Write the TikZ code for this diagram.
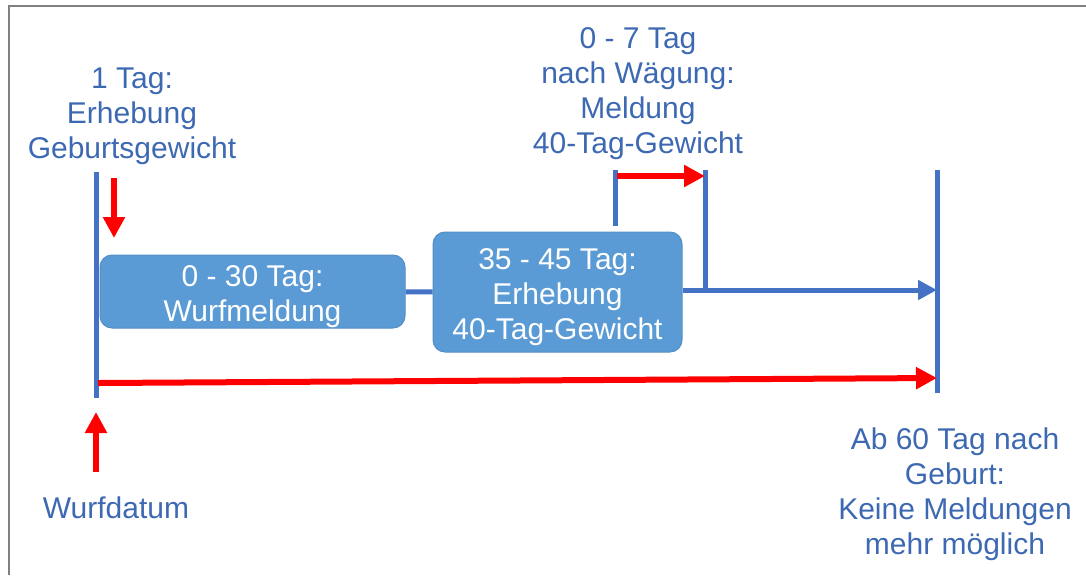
\documentclass[tikz,border=0pt]{standalone}
\usepackage{fontspec}
\setmainfont{Liberation Sans}
\usetikzlibrary{arrows.meta,positioning}
\definecolor{tickblue}{RGB}{68,114,196}
\definecolor{boxblue}{RGB}{91,155,213}
\definecolor{textblue}{RGB}{61,104,178}
\definecolor{markred}{RGB}{255,0,0}
\newcommand{\boxtext}[1]{\raisebox{0pt}[\height][\dimexpr\depth-5pt\relax]{\begin{tabular}{@{}c@{}}#1\end{tabular}}}
\begin{document}
\begin{tikzpicture}[x=0.5pt,y=-0.5pt,thick,
	tick/.style={draw=tickblue,line width=2.5pt},
	phase/.style={rectangle,rounded corners=6pt,fill=boxblue,draw=boxblue!92!black,line width=0.5pt,text=white,inner sep=0pt,font=\fontsize{15}{17.5}\selectfont},
	label/.style={text=textblue,align=center,inner sep=0pt,font=\fontsize{15}{17.5}\selectfont},
	redarrow/.style={draw=markred,line width=3pt,-{Triangle[length=10.5pt,width=10.5pt]}}]
		\useasboundingbox (0,0) rectangle (1086,575);
		%frame
		\draw[gray,line width=1.2pt] (9,575) -- (9,6) -- (1086,6);
		
		\node[phase,minimum width=152.5pt,minimum height=36.5pt] (wurf) at (252.5,291.5) {\boxtext{0 - 30 Tag:\\Wurfmeldung}};
		\node[phase,minimum width=124.5pt,minimum height=60pt] (erheb) at (557.5,292) {\boxtext{35 - 45 Tag:\\Erhebung\\40-Tag-Gewicht}};
		
		\coordinate (birthtop) at (96,172);
		\coordinate (birthbot) at (96,398);
		\coordinate (endtop) at (937,170);
		\coordinate (endbot) at (937,393);
		\coordinate (waegtop) at (615,170);
		\coordinate (waegbot) at (615,226);
		\coordinate (meldtop) at (705,170);
		\coordinate (meldjoin) at (705,290);
		
		\draw[tick] (birthtop) -- (birthbot);
		\draw[tick] (endtop) -- (endbot);
		\draw[tick] (waegtop) -- (waegbot);
		\draw[tick] (meldtop) -- (meldjoin);
		\draw[tick] (wurf) -- (erheb);
		\draw[tick,-{Triangle[length=9.5pt,width=9.5pt]}] (erheb.east |- meldjoin) -- (endtop |- meldjoin);
		
		%red arrows
		\coordinate (gebstart) at (114,178);
		\coordinate (gebtip) at (114,238);
		\coordinate (datstart) at (96,472);
		\coordinate (dattip) at (96,412);
		\draw[redarrow] (gebstart) -- (gebtip);
		\draw[redarrow] (datstart) -- (dattip);
		\draw[redarrow] (98,383) -- (937,378);
		\draw[redarrow] (617,176) -- (meldtop |- 0,176);
		
		\node[label] (gebgew) at (132,116) {1 Tag:\\Erhebung\\Geburtsgewicht};
		\node[label] (meld) at (638,94) {0 - 7 Tag\\nach Wägung:\\Meldung\\40-Tag-Gewicht};
		\node[label] (ab60) at (955,494) {Ab 60 Tag nach\\Geburt:\\Keine Meldungen\\mehr möglich};
		\node[label] (datum) at (116,508) {Wurfdatum};
\end{tikzpicture}
\end{document}
